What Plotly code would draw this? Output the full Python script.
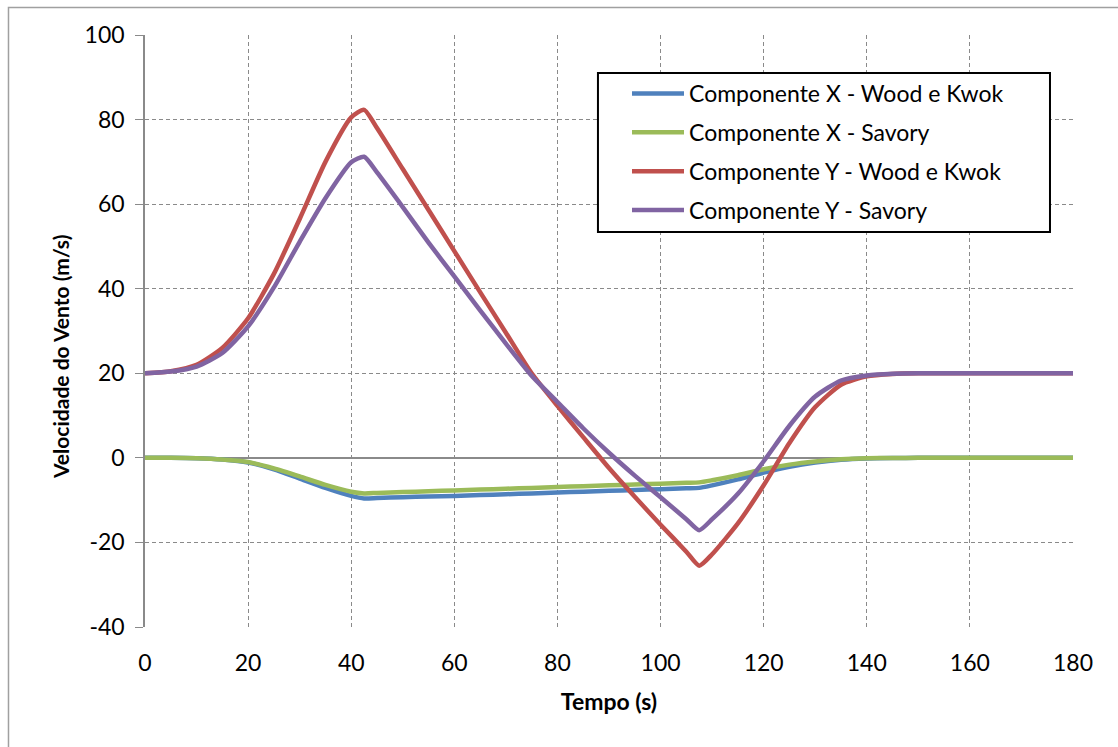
import plotly.graph_objects as go

# Tempo (s) and wind speed components (m/s)
tempo = [0, 5, 10, 15, 20, 25, 30, 35, 40, 42.5, 45, 50, 55, 60, 65, 70, 75, 80, 85, 90,
         95, 100, 105, 107.5, 110, 115, 120, 125, 130, 135, 140, 145, 150, 160, 170, 180]

x_wood_kwok = [0, 0, -0.1, -0.4, -1.1, -2.7, -4.9, -7.1, -9.0, -9.6, -9.5, -9.3, -9.15, -9.0, -8.8,
               -8.6, -8.4, -8.2, -8.0, -7.8, -7.6, -7.4, -7.2, -7.1, -6.5, -5.1, -3.5, -2.1, -1.1,
               -0.45, -0.15, -0.05, 0, 0, 0, 0]
x_savory = [0, 0, -0.1, -0.4, -1.0, -2.5, -4.4, -6.4, -8.0, -8.4, -8.3, -8.1, -7.9, -7.7, -7.5,
            -7.3, -7.1, -6.9, -6.7, -6.5, -6.3, -6.1, -5.9, -5.8, -5.3, -4.1, -2.7, -1.6, -0.85,
            -0.35, -0.1, -0.02, 0, 0, 0, 0]
y_wood_kwok = [20, 20.5, 22, 26, 33, 43.5, 56.5, 70, 80.5, 82.3, 78, 68.3, 58.6, 48.9, 39.2,
               29.6, 20.0, 12.3, 4.9, -2.4, -9.2, -15.8, -22.2, -25.5, -22.8, -15.5, -6.5, 3.5,
               12.0, 17.3, 19.3, 19.85, 20, 20, 20, 20]
y_savory = [20, 20.4, 21.6, 24.8, 31.1, 40.3, 51.1, 61.4, 69.9, 71.2, 67.5, 59.3, 50.9, 42.9,
            34.9, 27.0, 19.4, 13.2, 7.0, 1.2, -4.2, -9.3, -14.5, -17.1, -14.5, -8.5, -0.8, 7.6,
            14.5, 18.3, 19.5, 19.9, 20, 20, 20, 20]

series_names = ["Componente X - Wood e Kwok", "Componente X - Savory",
                "Componente Y - Wood e Kwok", "Componente Y - Savory"]
series_values = [x_wood_kwok, x_savory, y_wood_kwok, y_savory]
series_colors = ["#4F81BD", "#9BBB59", "#C0504D", "#8064A2"]

x_ticks = [0, 20, 40, 60, 80, 100, 120, 140, 160, 180]
y_ticks = [-40, -20, 0, 20, 40, 60, 80, 100]

FONT = "Lato"
GRID = "#8a8a8a"
TICK_SIZE = 23

fig = go.Figure()
for i, (name, vals, col) in enumerate(zip(series_names, series_values, series_colors)):
    fig.add_trace(go.Scatter(
        x=tempo, y=vals, name=name, mode="lines",
        line=dict(color=col, width=4.5, shape="spline", smoothing=0.6),
        legendgroup=f"g{i}",
    ))

fig.update_layout(
    width=1118, height=747,
    margin=dict(l=145, r=45, t=35, b=120),
    paper_bgcolor="white", plot_bgcolor="white",
    font=dict(family=FONT, size=TICK_SIZE, color="#000000"),
    showlegend=True,
    legend=dict(
        x=0.5194, y=0.9376, xanchor="left", yanchor="top",
        borderwidth=0, bgcolor="rgba(0,0,0,0)",
        font=dict(family=FONT, size=TICK_SIZE, color="#000000"),
        tracegroupgap=6, itemwidth=52,
    ),
    xaxis=dict(
        range=[0, 180], tickvals=x_ticks, ticktext=[str(v) for v in x_ticks],
        showgrid=True, gridcolor=GRID, griddash="4px,3px", gridwidth=1,
        showline=False, zeroline=False, ticks="", ticklabelstandoff=20,
        tickfont=dict(family=FONT, size=TICK_SIZE),
        title=dict(text="<b>Tempo (s)</b>", font=dict(family=FONT, size=23), standoff=18),
    ),
    yaxis=dict(
        range=[-40, 100], tickvals=y_ticks, ticktext=[str(v) for v in y_ticks],
        showgrid=True, gridcolor=GRID, griddash="4px,3px", gridwidth=1,
        showline=True, linecolor=GRID, linewidth=1.5,
        zeroline=True, zerolinecolor=GRID, zerolinewidth=1.5,
        ticks="outside", ticklen=8, tickcolor=GRID, ticklabelstandoff=6,
        tickfont=dict(family=FONT, size=TICK_SIZE),
    ),
    annotations=[dict(
        text="<b>Velocidade do Vento (m/s)</b>", textangle=-90,
        xref="paper", yref="paper", x=-0.0916, y=0.456,
        xanchor="center", yanchor="middle", showarrow=False,
        font=dict(family=FONT, size=21, color="#000000"),
    )],
)

# outer chart-area border
fig.add_shape(type="rect", xref="paper", yref="paper",
              x0=-0.1471, x1=1.06, y0=-0.23, y1=1.0465,
              line=dict(color="#a0a0a0", width=1.5), layer="below")

# legend frame
fig.add_shape(type="rect", xref="paper", yref="paper",
              x0=0.4881, x1=0.9752, y0=0.6672, y1=0.9358,
              line=dict(color="#000000", width=2), fillcolor="white", layer="above")

fig.write_html("out.html")
